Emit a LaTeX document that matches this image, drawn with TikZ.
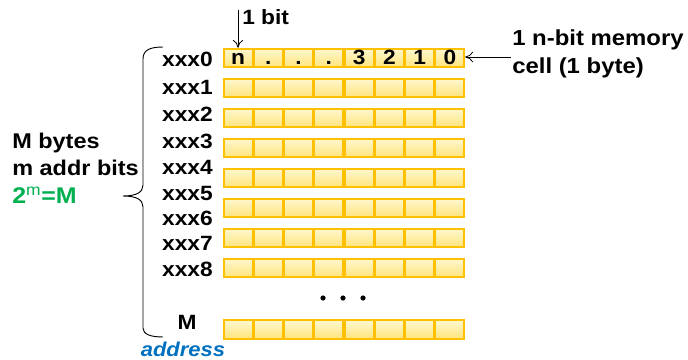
\documentclass[tikz,border=0pt]{standalone}
\usepackage{fontspec}
\setmainfont{Liberation Sans}[FakeStretch=1.1]
\usetikzlibrary{arrows.meta}

\definecolor{cellline}{HTML}{FFC000}
\definecolor{celltop}{HTML}{FFF8D0}
\definecolor{cellbot}{HTML}{FFE47A}
\definecolor{formgreen}{HTML}{00B050}
\definecolor{addrblue}{HTML}{0070C0}

\tikzset{
  bitcell/.style={draw=cellline, line width=1.3pt, top color=celltop, bottom color=cellbot,
    minimum width=21.6pt, minimum height=14pt, inner sep=0pt,
    font=\fontsize{15.5}{18}\selectfont\bfseries},
  lbl/.style={inner sep=0.75pt, font=\fontsize{15.5}{18}\selectfont\bfseries},
}

\begin{document}
\begin{tikzpicture}[x=0.75pt,y=0.75pt,yscale=-1,xscale=1]
\useasboundingbox (0,0) rectangle (688,360);

% memory rows, 8 cells each
\foreach \r in {0,...,7}{
  \foreach \c in {0,...,7}{
    \node[bitcell] (c\r-\c) at (238.1+30.25*\c, 58+30*\r) {};
  }
}
% last row
\foreach \c in {0,...,7}{
  \node[bitcell] (cM-\c) at (238.1+30.25*\c, 329.5) {};
}

% bit numbers of the first cell
\foreach \c/\t in {0/n,1/.,2/.,3/.,4/3,5/2,6/1,7/0}{
  \node[lbl, text height=11pt, text depth=0pt] at ([yshift=-0.5pt]c0-\c) {\t};
}

% address labels
\foreach \i/\y in {0/59,1/87,2/114,3/141,4/167,5/193,6/218,7/243,8/269}{
  \node[lbl, anchor=east] (a\i) at (214,\y) {xxx\i};
}
\node[lbl] (aM) at (187,322) {M};
\node[lbl, text=addrblue, font=\fontsize{15}{18}\selectfont\bfseries\itshape] (addr) at (183,349.5) {address};

% dots between rows
\foreach \x in {323,343,363}{
  \fill (\x,298) circle (2.6);
}

% 1 bit
\node[lbl, anchor=west] (bit) at (241,17) {1 bit};
\coordinate (bittop) at (238,10);
\draw[-{To[length=6pt,width=8pt]}, line width=0.6pt] (bittop) -- (c0-0.north west -| bittop) ;

% memory cell
\node[lbl, anchor=west, align=left, font=\fontsize{16.3}{21}\selectfont\bfseries] (cell) at (511,54) {1 n-bit memory\\cell (1 byte)};
\draw[-{To[length=6pt,width=8pt]}, line width=0.6pt] (cell.west |- 0,57) -- (c0-7.east |- 0,57) ;

% brace
\draw[line width=0.7pt] (163,47) .. controls (150,47) and (143,50) .. (143,59) -- (143,185) .. controls (143,192) and (137,196) .. (123,196) .. controls (137,196) and (143,200) .. (143,207) -- (143,328) .. controls (143,334) and (150,337) .. (163,337);

% size note
\node[lbl, anchor=west, align=left, font=\fontsize{16}{20.3}\selectfont\bfseries] (size) at (11,154) {M bytes\\m addr bits};
\node[lbl, anchor=west, text=formgreen, font=\fontsize{17}{20}\selectfont\bfseries] (form) at (11,195) {2\textsuperscript{\mdseries m}=M};

\end{tikzpicture}
\end{document}
